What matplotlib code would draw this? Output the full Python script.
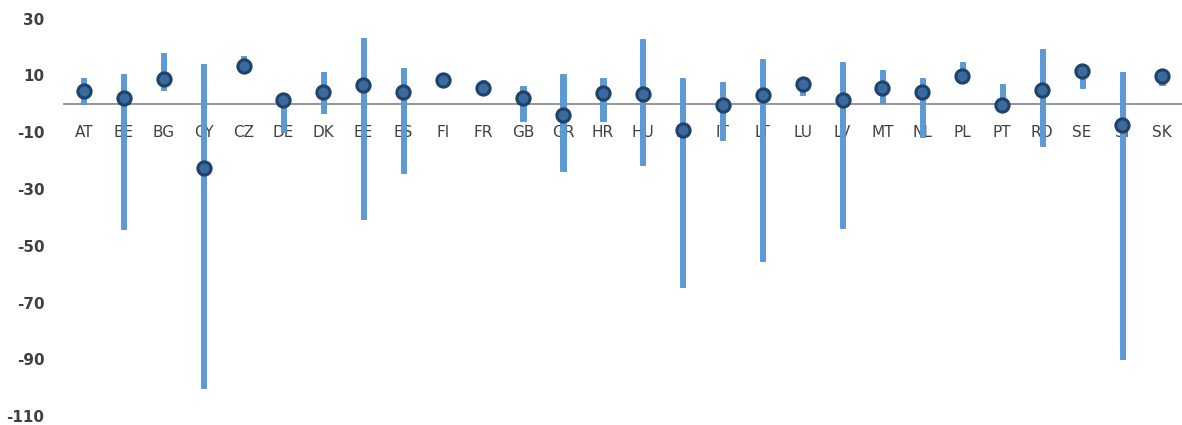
import matplotlib
matplotlib.use('Agg')
import matplotlib.pyplot as plt
import numpy as np

plt.rcParams['axes.unicode_minus'] = False

# ประเทศ และค่าต่ำสุด / สูงสุด / ค่าที่แสดงเป็นจุด
countries = ['AT', 'BE', 'BG', 'CY', 'CZ', 'DE', 'DK', 'EE', 'ES', 'FI', 'FR', 'GB', 'GR', 'HR',
             'HU', 'IE', 'IT', 'LT', 'LU', 'LV', 'MT', 'NL', 'PL', 'PT', 'RO', 'SE', 'SI', 'SK']
range_min = [0.0, -44.2, 5.0, -100.0, 12.5, -10.0, -3.1, -40.7, -24.2, 8.3, 5.0, -6.2, -23.7, -6.2,
             -21.7, -64.7, -12.6, -55.5, 3.0, -43.6, 0.3, -11.7, 7.7, -2.3, -15.0, 5.7, -90.0, 6.5]
range_max = [9.2, 10.6, 17.9, 14.2, 16.7, 1.5, 11.2, 23.3, 12.7, 8.3, 8.5, 6.2, 10.6, 9.2,
             23.0, 9.2, 7.7, 15.9, 8.9, 14.7, 12.1, 9.2, 14.7, 6.9, 19.4, 13.0, 11.2, 12.4]
point_value = [4.7, 2.2, 8.9, -22.5, 13.3, 1.2, 4.2, 6.5, 4.2, 8.3, 5.7, 2.2, -4.0, 3.8,
               3.6, -9.3, -0.5, 3.0, 6.9, 1.2, 5.7, 4.2, 9.7, -0.5, 5.0, 11.4, -7.5, 9.7]
y_ticks = [-110, -90, -70, -50, -30, -10, 10, 30]

fig = plt.figure(figsize=(11.82, 4.25), dpi=100)
ax = fig.add_axes([0.054, 0.021, 0.946, 0.935])

x = np.arange(len(countries))
heights = [hi - lo for lo, hi in zip(range_min, range_max)]

# แท่งช่วงค่า (min -> max)
ax.bar(x, heights, bottom=range_min, width=0.13, color='#5B9BD5',
       edgecolor='#5590CC', linewidth=0.6, zorder=2)

# จุดค่าหลัก
ax.plot(x, point_value, linestyle='none', marker='o', markersize=9.5,
        markerfacecolor='#3A6A9E', markeredgecolor='#1F4268', markeredgewidth=2.2, zorder=3)

ax.set_xlim(-0.5, len(countries) - 0.5)
ax.set_ylim(-110, 30)
ax.set_yticks(y_ticks)
ax.set_xticks(x)
ax.set_xticklabels(countries)

for s in ['top', 'right', 'left']:
    ax.spines[s].set_visible(False)
ax.spines['bottom'].set_position(('data', 0))
ax.spines['bottom'].set_color('#8C8C8C')
ax.spines['bottom'].set_linewidth(1.3)
ax.spines['bottom'].set_zorder(1)

ax.tick_params(axis='x', length=0, pad=15, labelsize=11, labelcolor='#404040')
ax.tick_params(axis='y', length=0, pad=14, labelsize=11, labelcolor='#404040')
for lab in ax.get_yticklabels():
    lab.set_fontweight('bold')

fig.savefig('out.png', dpi=100)
